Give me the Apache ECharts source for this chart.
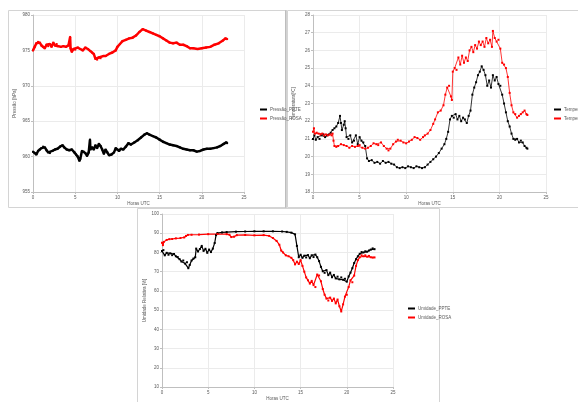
<!DOCTYPE html>
<html><head><meta charset="utf-8">
<script src="https://cdn.jsdelivr.net/npm/echarts@6/dist/echarts.min.js"></script>
<style>html,body{margin:0;padding:0;background:#fff}#c{width:578px;height:402px}</style>
</head><body><div id="c"></div>
<script>
// ---- Pressure (hPa) ----
const pPpteH = [0,0.2,0.4,0.6,0.8,1.0,1.2,1.4,1.6,1.8,2.0,2.3,2.6,2.9,3.2,3.5,3.7,4.0,4.3,4.6,4.9,5.1,5.3,5.5,5.6,5.8,6.0,6.2,6.4,6.6,6.75,6.8,7.0,7.2,7.4,7.6,7.8,8.0,8.2,8.4,8.6,8.8,9.0,9.3,9.6,9.8,10.0,10.2,10.4,10.7,11.0,11.3,11.6,12.0,12.4,12.8,13.2,13.5,13.8,14.2,14.6,15.0,15.4,15.8,16.2,16.6,17.0,17.4,17.8,18.2,18.6,19.0,19.4,19.8,20.2,20.6,21.0,21.4,21.8,22.2,22.6,22.9,23.0];
const pPpteV = [960.7,960.5,960.3,960.8,961.0,961.2,961.4,961.3,960.9,960.6,960.5,960.8,961.0,961.1,961.4,961.6,961.3,961.0,960.9,961.0,960.6,960.3,960.0,959.4,959.7,960.8,960.7,960.5,960.1,960.6,962.4,961.0,961.3,961.0,961.6,961.2,961.8,961.5,961.0,960.4,961.0,960.6,960.2,960.3,960.6,961.2,961.0,960.8,961.1,961.0,961.4,961.9,961.7,962.0,962.3,962.7,963.1,963.3,963.1,962.9,962.7,962.4,962.1,961.9,961.7,961.6,961.5,961.3,961.1,961.0,960.9,960.9,960.7,960.8,961.0,961.1,961.1,961.2,961.3,961.5,961.8,962.0,961.9];
const pRosaH = [0,0.2,0.4,0.6,0.8,1.0,1.2,1.4,1.6,1.8,2.0,2.2,2.4,2.6,2.8,3.0,3.3,3.6,3.9,4.2,4.4,4.45,4.6,4.8,5.0,5.3,5.6,5.9,6.2,6.5,6.8,7.0,7.2,7.4,7.6,7.8,8.0,8.3,8.6,9.0,9.4,9.8,10.0,10.3,10.6,11.0,11.4,11.8,12.2,12.6,13.0,13.4,13.8,14.2,14.6,15.0,15.4,15.8,16.2,16.6,17.0,17.4,17.8,18.2,18.6,19.0,19.5,20.0,20.5,21.0,21.5,22.0,22.5,22.8,23.0];
const pRosaV = [975.0,975.5,976.0,976.2,976.1,975.7,975.5,975.3,975.8,975.6,975.9,975.5,976.1,975.7,975.9,975.6,975.5,975.6,975.5,975.7,976.9,975.3,974.8,975.2,975.1,975.4,975.2,975.0,975.4,975.2,974.9,974.7,974.5,973.8,973.7,974.0,973.9,974.2,974.2,974.5,974.7,975.0,975.5,975.9,976.3,976.5,976.7,976.8,977.1,977.6,978.0,977.8,977.6,977.4,977.2,977.0,976.7,976.4,976.1,976.0,976.1,975.8,975.8,975.6,975.3,975.3,975.2,975.3,975.4,975.5,975.8,976.0,976.4,976.7,976.6];

// ---- Temperature (ºC) ----
const tPpteH = [0,0.15,0.3,0.5,0.7,0.9,1.1,1.3,1.5,1.7,1.9,2.1,2.3,2.5,2.7,2.9,3.0,3.1,3.3,3.4,3.5,3.6,3.8,4.0,4.2,4.4,4.6,4.8,5.0,5.2,5.4,5.6,5.8,6.0,6.3,6.6,6.9,7.2,7.5,7.8,8.1,8.4,8.7,9.0,9.3,9.6,9.9,10.2,10.5,10.8,11.1,11.4,11.7,12.0,12.3,12.6,12.9,13.2,13.5,13.8,14.1,14.3,14.5,14.7,14.9,15.1,15.3,15.5,15.7,15.9,16.1,16.3,16.5,16.7,16.9,17.1,17.3,17.5,17.7,17.9,18.1,18.3,18.5,18.7,18.9,19.1,19.3,19.5,19.7,19.9,20.1,20.3,20.5,20.7,20.9,21.1,21.3,21.5,21.7,21.9,22.1,22.3,22.5,22.7,22.9,23.0];
const tPpteV = [21.0,21.2,20.95,21.1,21.0,21.2,21.25,21.1,21.2,21.25,21.35,21.5,21.6,21.7,21.9,22.3,21.9,21.5,21.8,22.0,21.6,21.1,21.0,21.2,20.8,20.9,21.2,20.7,21.1,20.9,20.8,20.6,19.9,19.75,19.8,19.65,19.7,19.6,19.75,19.65,19.7,19.6,19.55,19.4,19.35,19.4,19.35,19.45,19.4,19.35,19.45,19.4,19.35,19.4,19.55,19.7,19.85,20.0,20.2,20.45,20.7,21.0,21.4,22.1,22.3,22.2,22.4,22.1,22.3,22.0,22.2,22.1,21.9,22.3,22.6,23.5,23.9,24.2,24.6,24.8,25.1,24.9,24.6,24.0,24.3,23.9,24.6,24.3,24.5,24.1,24.0,23.5,23.0,22.5,22.0,21.7,21.3,21.0,20.95,21.0,20.8,20.9,20.8,20.6,20.5,20.45];
const tRosaH = [0,0.1,0.2,0.4,0.6,0.8,1.0,1.2,1.4,1.6,1.8,2.0,2.1,2.2,2.3,2.5,2.7,3.0,3.3,3.6,3.9,4.2,4.5,4.8,5.0,5.3,5.6,5.9,6.2,6.5,6.8,7.0,7.3,7.6,7.9,8.1,8.3,8.6,8.9,9.1,9.4,9.7,10.0,10.3,10.6,10.9,11.2,11.5,11.8,12.0,12.3,12.6,12.9,13.1,13.4,13.7,14.0,14.2,14.4,14.6,14.8,14.9,15.0,15.2,15.4,15.6,15.8,16.0,16.2,16.4,16.6,16.8,17.0,17.2,17.4,17.6,17.8,18.0,18.2,18.4,18.6,18.8,19.0,19.2,19.3,19.5,19.7,19.9,20.1,20.3,20.5,20.7,20.9,21.1,21.3,21.5,21.7,21.9,22.1,22.3,22.5,22.7,22.9,23.0];
const tRosaV = [21.4,21.6,21.3,21.35,21.3,21.25,21.3,21.2,21.25,21.2,21.25,21.2,21.3,20.9,20.6,20.55,20.6,20.7,20.65,20.6,20.5,20.6,20.55,20.6,20.65,20.5,20.45,20.5,20.6,20.75,20.7,20.65,20.8,20.6,20.45,20.35,20.45,20.7,20.85,20.95,20.9,20.8,20.75,20.85,20.95,21.1,21.05,20.95,21.1,21.2,21.3,21.5,21.85,22.1,22.5,22.6,22.9,23.5,23.9,24.0,23.4,23.2,24.8,25.0,24.9,25.6,25.2,25.7,25.3,25.6,25.4,26.0,26.2,25.9,26.3,26.1,26.5,26.3,26.5,26.2,26.7,26.4,26.6,26.2,27.1,26.7,26.5,26.6,26.1,25.3,25.2,25.0,24.5,23.6,22.9,22.5,22.4,22.2,22.3,22.4,22.5,22.6,22.4,22.35];

// ---- Relative humidity (%) ----
const uPpteH = [0,0.15,0.3,0.5,0.7,0.9,1.1,1.3,1.5,1.7,1.9,2.1,2.3,2.5,2.7,2.85,3.0,3.2,3.4,3.6,3.7,3.9,4.1,4.3,4.5,4.7,4.9,5.1,5.3,5.5,5.7,5.85,6.0,6.5,7.0,8.0,9.0,10.0,11.0,12.0,13.0,13.5,14.0,14.4,14.6,14.8,15.0,15.2,15.4,15.6,15.8,16.0,16.2,16.4,16.6,16.8,17.0,17.2,17.4,17.6,17.8,18.0,18.2,18.4,18.6,18.8,19.0,19.2,19.4,19.6,19.8,20.0,20.2,20.4,20.6,20.8,21.0,21.2,21.4,21.6,21.8,22.0,22.2,22.4,22.6,22.8,23.0];
const uPpteV = [80.7,81.2,78.5,79.8,78.8,79.5,78.6,79.2,78.0,77.6,76.5,75.3,75.8,74.2,74.9,71.8,73.5,75.8,76.8,77.5,82.0,80.5,81.8,83.4,80.8,81.9,79.8,81.5,80.2,82.0,84.9,89.0,90.1,90.4,90.6,90.8,90.9,91.0,91.0,91.0,90.9,90.7,90.3,89.4,83.4,77.5,78.8,77.2,78.3,77.4,78.6,77.0,78.5,77.6,78.9,77.5,75.5,72.5,70.2,69.4,70.8,68.2,69.5,67.1,68.3,66.5,67.4,66.0,67.0,65.8,66.3,64.8,67.5,69.5,71.8,74.5,76.5,78.0,79.3,80.2,80.0,80.6,80.4,81.0,81.5,82.1,81.7];
const uRosaH = [0,0.1,0.2,0.5,0.8,1.1,1.5,2.0,2.4,2.6,2.8,3.2,4.0,5.0,6.0,7.0,7.3,7.5,7.8,8.1,9.0,10.0,11.0,11.6,12.0,12.4,12.7,12.9,13.1,13.4,13.7,14.0,14.2,14.4,14.6,14.8,15.0,15.2,15.4,15.6,15.8,16.0,16.2,16.4,16.6,16.8,17.0,17.2,17.4,17.6,17.8,18.0,18.2,18.4,18.6,18.8,19.0,19.2,19.4,19.6,19.8,20.0,20.2,20.4,20.6,20.8,21.0,21.2,21.4,21.6,21.8,22.0,22.2,22.4,22.6,22.8,23.0];
const uRosaV = [85.0,83.8,85.5,86.5,86.9,87.0,87.3,87.5,87.8,88.6,89.1,89.2,89.3,89.5,89.6,89.5,89.2,88.0,88.2,89.0,89.1,88.9,89.0,88.6,87.5,86.0,84.0,81.0,80.0,78.5,78.0,77.2,76.0,73.8,75.2,74.0,76.0,73.0,70.0,67.0,65.5,63.8,65.2,63.0,62.0,68.5,68.0,65.0,61.0,58.0,56.0,55.0,56.5,54.8,56.0,53.5,55.5,52.0,49.3,53.0,57.0,58.0,62.0,65.5,64.5,68.0,73.0,76.0,77.5,78.5,78.0,78.5,77.8,78.2,77.5,77.3,77.4];

function zip(h, v) { return h.map((x, i) => [x, v[i]]); }

const chart = echarts.init(document.getElementById('c'), null, {renderer: 'canvas'});
const FONT = 'Liberation Sans';
const lbl = {fontSize: 4.5, color: '#595959', fontFamily: FONT, margin: 3};
const axisLine = {lineStyle: {color: '#bfbfbf', width: 1}};
const split = {show: true, lineStyle: {color: '#ebebeb', width: 1}};

function xAx(gi) {
  return {type: 'value', gridIndex: gi, min: 0, max: 25, interval: 5,
    name: 'Horas UTC', nameLocation: 'middle', nameGap: 9,
    nameTextStyle: {fontSize: 4.5, color: '#595959', fontFamily: FONT},
    axisLine: Object.assign({onZero: false}, axisLine), axisTick: {show: true, length: 2, lineStyle: {color: '#bfbfbf'}},
    axisLabel: lbl, splitLine: split};
}
function yAx(gi, min, max, iv, name, gap) {
  return {type: 'value', gridIndex: gi, min: min, max: max, interval: iv,
    name: name, nameLocation: 'middle', nameGap: gap, nameRotate: 90,
    nameTextStyle: {fontSize: 4.5, color: '#595959', fontFamily: FONT},
    axisLine: Object.assign({show: true}, axisLine), axisTick: {show: true, length: 2, lineStyle: {color: '#bfbfbf'}},
    axisLabel: lbl, splitLine: split};
}
function ser(name, gi, data, color, lw, ss) {
  return {name: name, type: 'line', xAxisIndex: gi, yAxisIndex: gi, data: data,
    symbol: 'rect', symbolSize: ss, showSymbol: true,
    itemStyle: {color: color}, lineStyle: {color: color, width: lw},
    animation: false, silent: true};
}
function leg(names, left, top) {
  return {orient: 'vertical', left: left, top: top, data: names,
    itemWidth: 7, itemHeight: 2, itemGap: 4, icon: 'rect',
    textStyle: {fontSize: 4.5, color: '#595959', fontFamily: FONT, padding: [0, 0, 0, -2]},
    selectedMode: false};
}

chart.setOption({
  backgroundColor: '#ffffff',
  animation: false,
  graphic: [
    {type: 'rect', shape: {x: 8.5, y: 10.5, width: 277, height: 197}, style: {fill: 'none', stroke: '#d4d4d4', lineWidth: 1}, z: -1},
    {type: 'rect', shape: {x: 287.5, y: 10.5, width: 300, height: 197}, style: {fill: 'none', stroke: '#d4d4d4', lineWidth: 1}, z: -1},
    {type: 'rect', shape: {x: 137.5, y: 208.5, width: 302, height: 200}, style: {fill: 'none', stroke: '#d4d4d4', lineWidth: 1}, z: -1},
    {type: 'line', shape: {x1: 286, y1: 10, x2: 286, y2: 208}, style: {stroke: '#a6a6a6', lineWidth: 1}, z: -1}
  ],
  grid: [
    {left: 33, top: 15, width: 211, height: 177},
    {left: 313, top: 15, width: 233, height: 177},
    {left: 162, top: 214, width: 231, height: 176}
  ],
  xAxis: [xAx(0), xAx(1), xAx(2)],
  yAxis: [
    yAx(0, 955, 980, 5, 'Pressão [hPa]', 16),
    yAx(1, 18, 28, 1, 'Temperatura[ºC]', 17),
    yAx(2, 10, 100, 10, 'Umidade Relativa [%]', 13)
  ],
  legend: [
    leg(['Pressão_PPTE', 'Pressão_ROSA'], 255, 102),
    leg(['Temperatura_PPTE', 'Temperatura_ROSA'], 549, 102),
    leg(['Umidade_PPTE', 'Umidade_ROSA'], 403, 301)
  ],
  series: [
    ser('Pressão_PPTE', 0, zip(pPpteH, pPpteV), '#000000', 2.5, 2),
    ser('Pressão_ROSA', 0, zip(pRosaH, pRosaV), '#ff0000', 2.5, 2),
    ser('Temperatura_PPTE', 1, zip(tPpteH, tPpteV), '#000000', 0.8, 2),
    ser('Temperatura_ROSA', 1, zip(tRosaH, tRosaV), '#ff0000', 0.8, 2),
    ser('Umidade_PPTE', 2, zip(uPpteH, uPpteV), '#000000', 1.2, 2),
    ser('Umidade_ROSA', 2, zip(uRosaH, uRosaV), '#ff0000', 1.2, 2)
  ]
});
</script></body></html>
